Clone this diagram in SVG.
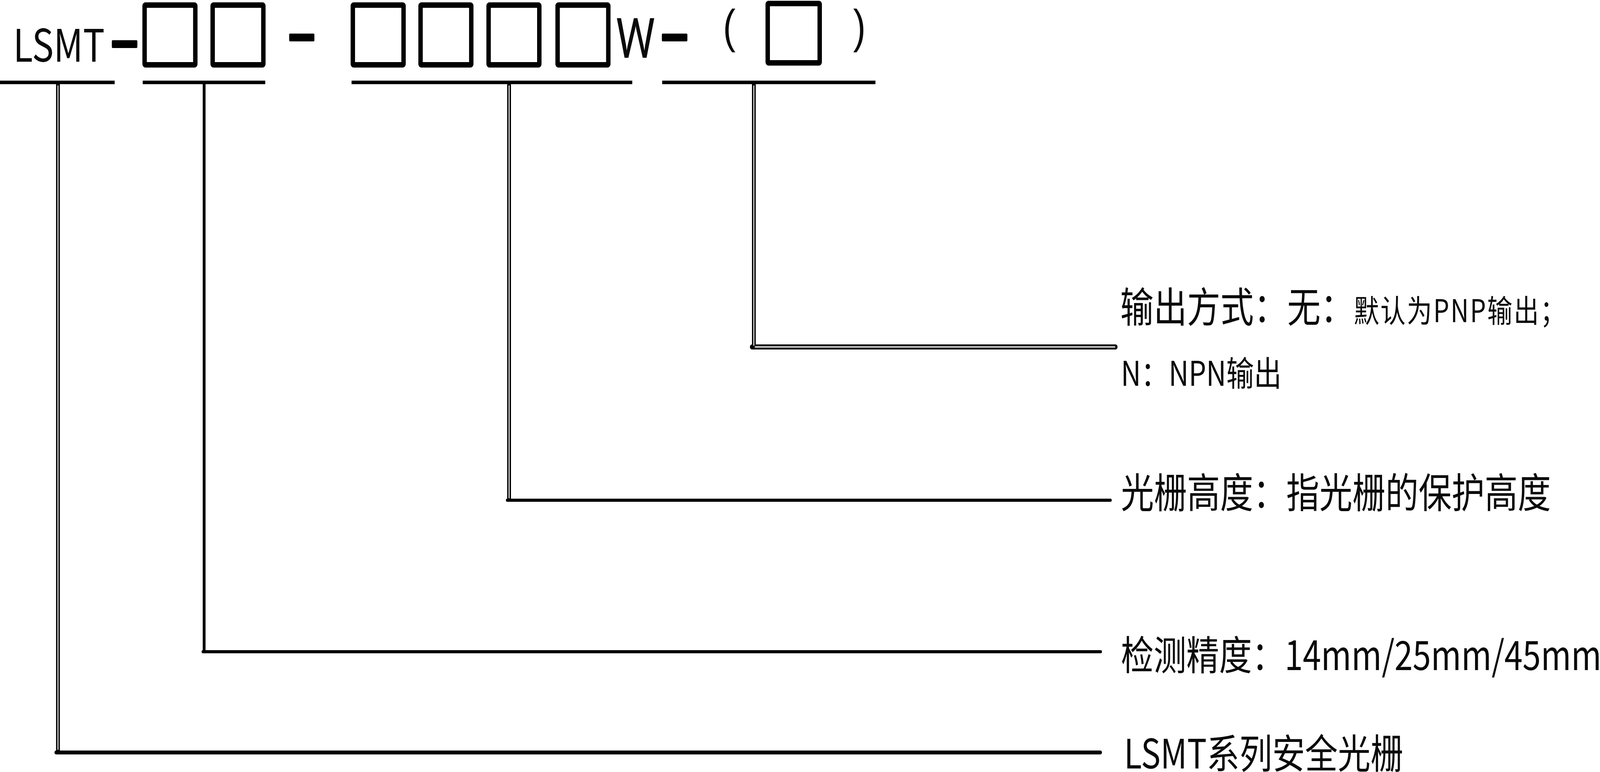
<svg xmlns="http://www.w3.org/2000/svg" width="5079" height="1977" viewBox="0 0 5079 1977" preserveAspectRatio="none" style="display:block;width:100vw;height:100vh;">
<style>
.t{font-family:"Noto Sans CJK SC","Noto Sans",sans-serif;fill:#0a0a0a;}
.lat{font-family:Roboto,"Liberation Sans",sans-serif;fill:#0a0a0a;}
.par{font-family:"Liberation Sans",Arial,sans-serif;fill:#0a0a0a;}
.box{fill:none;stroke:#000;stroke-width:14;}
.dash{fill:#000;}
.ln{stroke:#000;fill:none;}
.core{stroke:#fff;fill:none;stroke-width:3;stroke-linecap:round;}
</style>
<rect width="5079" height="1977" fill="#fff"/>
<g id="code-prefix">
<text class="t" x="42" y="158" font-size="115">LSMT</text>
<rect class="dash" x="355" y="103" width="81" height="20" rx="3"/>
</g>
<g id="code-precision">
<rect class="box" x="459" y="13" width="161" height="153" rx="2"/>
<rect class="box" x="675" y="13" width="161" height="153" rx="2"/>
<rect class="dash" x="918" y="86" width="80" height="20" rx="3"/>
</g>
<g id="code-height">
<rect class="box" x="1120" y="13" width="161" height="153" rx="2"/>
<rect class="box" x="1335" y="13" width="161" height="153" rx="2"/>
<rect class="box" x="1551" y="13" width="161" height="153" rx="2"/>
<rect class="box" x="1770" y="13" width="161" height="153" rx="2"/>
<text class="lat" x="2017" y="148" font-size="142" text-anchor="middle">W</text>
<rect class="dash" x="2101" y="86" width="81" height="20" rx="3"/>
</g>
<g id="code-output">
<text class="par" x="2315" y="109" font-size="120" text-anchor="middle">(</text>
<rect class="box" x="2437" y="9" width="165" height="152" rx="2"/>
<text class="par" x="2728" y="109" font-size="120" text-anchor="middle">)</text>
</g>
<g id="connectors">
<g class="ln" stroke-width="9">
<line x1="0" y1="211" x2="364" y2="211"/>
<line x1="453" y1="211" x2="842" y2="211"/>
<line x1="1116" y1="211" x2="2007" y2="211"/>
<line x1="2102" y1="211" x2="2779" y2="211"/>
</g>
<path class="ln" stroke-width="12" d="M184 211 V1932"/>
<path class="ln" stroke-width="10" stroke-linecap="round" d="M178 1927 H3493"/>
<path class="ln" stroke-width="9" d="M648 211 V1673"/>
<path class="ln" stroke-width="8" stroke-linecap="round" d="M644 1669 H3494"/>
<path class="ln" stroke-width="12" d="M1616 211 V1285"/>
<path class="ln" stroke-width="8" stroke-linecap="round" d="M1610 1281 H3525"/>
<path class="ln" stroke-width="12" d="M2393 211 V895"/>
<path class="ln" stroke-width="13" stroke-linecap="round" d="M2387 888.5 H3541"/>
<path class="core" d="M184 220 V1919"/>
<path class="core" d="M1616 220 V1275"/>
<path class="core" d="M2393 220 V884"/>
<path class="core" d="M2397 888.5 H3539"/>
</g>
<g id="desc-output">
<text class="t" x="3556" y="825" font-size="106">输出方式：无：<tspan font-size="80" letter-spacing="4">默认为PNP输出；</tspan></text>
<text class="t" x="3558" y="988" font-size="88">N：NPN输出</text>
</g>
<g id="desc-height">
<text class="t" x="3558" y="1300" font-size="105">光栅高度：指光栅的保护高度</text>
</g>
<g id="desc-precision">
<text class="t" x="3558" y="1716" font-size="104">检测精度：14mm/25mm/45mm</text>
</g>
<g id="desc-series">
<text class="t" x="3568" y="1968" font-size="104">LSMT系列安全光栅</text>
</g>
</svg>
